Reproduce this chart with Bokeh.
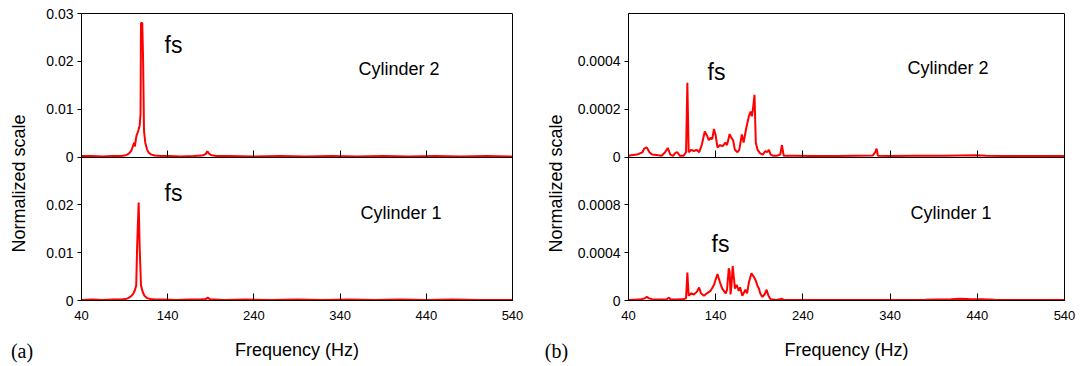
import math

from bokeh.plotting import figure
from bokeh.layouts import row
from bokeh.models import Range1d, FixedTicker, Label, LinearAxis
from bokeh.embed import file_html
from bokeh.resources import INLINE

# ---------------------------------------------------------------- data
freq_ticks = [40, 140, 240, 340, 440, 540]
freq_labels = ["40", "140", "240", "340", "440", "540"]

# (a) upper panel: Cylinder 2
a_cyl2_freq = [40, 52, 64, 76, 86, 90, 93, 96, 98, 99.5, 101, 102, 103, 104, 105,
               106, 107.5, 108.5, 109, 110.5, 111.5, 112.5, 114, 116, 118, 121, 125,
               132, 142, 155, 170, 180, 184, 186, 187.5, 190, 196, 210, 240, 270, 300,
               330, 360, 390, 420, 450, 480, 510, 540]
a_cyl2_val = [0.0002, 0.0002, 0.0001, 0.0002, 0.0002, 0.0003, 0.0005, 0.0009, 0.0014,
              0.0022, 0.0030, 0.0022, 0.0036, 0.0046, 0.0050, 0.0056, 0.0066, 0.0090,
              0.0280, 0.0280, 0.0200, 0.0055, 0.0030, 0.0016, 0.0009, 0.0005, 0.0003,
              0.0002, 0.0002, 0.0001, 0.0002, 0.0003, 0.0006, 0.0012, 0.0008, 0.0004,
              0.0002, 0.0002, 0.0001, 0.0002, 0.0001, 0.0002, 0.0001, 0.0002, 0.0001,
              0.0002, 0.0001, 0.0002, 0.0001]

# (a) lower panel: Cylinder 1
a_cyl1_freq = [40, 52, 64, 76, 86, 91, 94, 97, 100, 102, 103.5, 104.5, 106.3, 107.5,
               109, 111, 113, 116, 120, 126, 136, 150, 165, 178, 184, 186.5, 188, 190,
               194, 205, 230, 260, 290, 320, 350, 380, 410, 440, 470, 500, 540]
a_cyl1_val = [0.0001, 0.0002, 0.0001, 0.0002, 0.0002, 0.0003, 0.0005, 0.0008, 0.0014,
              0.0022, 0.0032, 0.0110, 0.0205, 0.0110, 0.0032, 0.0018, 0.0010, 0.0005,
              0.0003, 0.0002, 0.0002, 0.0001, 0.0002, 0.0002, 0.0003, 0.0006, 0.0004,
              0.0002, 0.0002, 0.0001, 0.0002, 0.0001, 0.0002, 0.0001, 0.0002, 0.0001,
              0.0002, 0.0001, 0.0002, 0.0001, 0.0001]

# (b) upper panel: Cylinder 2
b_cyl2_freq = [40, 45, 50, 53, 56, 58, 61, 64, 67, 72, 78, 82, 85, 88, 91, 94, 96, 99,
               103, 106, 107.5, 109, 112, 115, 118, 121, 124, 127.5, 130, 132, 134, 136,
               138, 140, 142, 145, 148, 151, 153, 156, 158, 160, 162, 165, 167, 170,
               172, 175, 178, 180, 181.5, 183, 184.5, 186, 188, 191, 194, 197, 199, 201,
               203, 206, 210, 214, 216, 218, 230, 250, 280, 300, 320, 323, 324.5, 326,
               340, 370, 400, 420, 440, 450, 470, 500, 540]
b_cyl2_val = [0.000005, 0.000008, 0.00001, 0.000015, 0.00002, 0.000035, 0.00004,
              0.00002, 0.00001, 0.000008, 0.000005, 0.00002, 0.000038, 0.00001,
              0.000005, 0.000018, 0.00002, 0.000005, 0.000005, 0.00002, 0.00031,
              0.00002, 0.00003, 0.000025, 0.00003, 0.00002, 0.00005, 0.000107,
              0.00009, 0.00007, 0.00008, 0.000075, 0.000117, 0.00009, 0.00004,
              0.00005, 0.000045, 0.00006, 0.00005, 0.000096, 0.00008, 0.00007,
              0.00003, 0.00002, 0.00003, 0.000094, 0.00006, 0.00012, 0.00017,
              0.00019, 0.00017, 0.00021, 0.00026, 0.00006, 0.00003, 0.000015,
              0.00001, 0.000025, 0.00002, 0.00003, 0.00001, 0.000005, 0.000005,
              0.00001, 0.00005, 0.000005, 0.000005, 0.000004, 0.000004, 0.000005,
              0.000006, 0.00002, 0.000035, 0.000005, 0.000004, 0.000005, 0.000005,
              0.000006, 0.000007, 0.000005, 0.000004, 0.000004, 0.000004]

# (b) lower panel: Cylinder 1
b_cyl1_freq = [40, 50, 55, 59, 61, 63, 67, 75, 84, 86.5, 88, 95, 103, 106, 107.5, 109,
               112, 115, 118, 121, 123, 126.5, 130, 134, 138, 142, 145, 147.5, 151.5,
               153, 155, 156, 157, 158, 159.5, 161, 162, 164, 166.5, 168, 170.5, 172,
               174, 176, 178, 181, 183.5, 185.8, 188, 189.6, 191, 193.5, 196, 198.4,
               200.5, 203, 210, 216, 218, 260, 300, 380, 410, 420, 430, 445, 460, 500,
               540]
b_cyl1_val = [0.000005, 0.000008, 0.00001, 0.00002, 0.00003, 0.00002, 0.00001,
              0.000008, 0.00001, 0.000025, 0.00001, 0.000008, 0.00001, 0.00002,
              0.000233, 0.00004, 0.00006, 0.00005, 0.00007, 0.000108, 0.00006,
              0.00004, 0.00006, 0.00008, 0.00013, 0.000222, 0.00015, 0.0001, 0.00006,
              0.00009, 0.00027, 0.00024, 0.00005, 0.00012, 0.000289, 0.00018, 0.0001,
              0.00013, 0.00008, 0.00011, 0.00004, 0.00006, 0.00009, 0.00006, 0.00015,
              0.000228, 0.0002, 0.00017, 0.00012, 0.0001, 0.00006, 0.00003, 0.00005,
              0.00009, 0.00004, 0.00001, 0.000005, 0.000015, 0.000005, 0.000004,
              0.000005, 0.000006, 0.00001, 0.000015, 0.000012, 0.00001, 0.000006,
              0.000004, 0.000004]

# y scales: each panel runs from 0 to its own top value
a_lower_top, a_upper_top = 0.03, 0.03
a_lower_ticks, a_lower_labels = [0, 0.01, 0.02], ["0", "0.01", "0.02"]
a_upper_ticks, a_upper_labels = [0, 0.01, 0.02, 0.03], ["0", "0.01", "0.02", "0.03"]

b_lower_top, b_upper_top = 0.0012, 0.0006
b_lower_ticks, b_lower_labels = [0, 0.0004, 0.0008], ["0", "0.0004", "0.0008"]
b_upper_ticks, b_upper_labels = [0, 0.0002, 0.0004], ["0", "0.0002", "0.0004"]

# ---------------------------------------------------------------- styling
SANS = "Liberation Sans"
SERIF = "Liberation Serif"
RED = "#ff0000"
HEIGHT = 366


def style_x(axis, show_labels):
    axis.ticker = FixedTicker(ticks=freq_ticks)
    axis.major_label_overrides = dict(zip(freq_ticks, freq_labels))
    axis.major_tick_in = 7
    axis.major_tick_out = 0
    axis.minor_tick_line_color = None
    axis.axis_line_color = "black"
    axis.major_tick_line_color = "black"
    axis.major_label_text_font = SANS
    axis.major_label_text_color = "black"
    if show_labels:
        axis.major_label_text_font_size = "13px"
        axis.major_label_standoff = 10
        axis.axis_label = "Frequency (Hz)"
        axis.axis_label_text_font = SANS
        axis.axis_label_text_font_size = "18px"
        axis.axis_label_text_font_style = "normal"
        axis.axis_label_text_color = "black"
        axis.axis_label_standoff = 17
    else:
        axis.major_label_text_font_size = "0px"
        axis.major_label_text_alpha = 0
        axis.major_label_standoff = 0


def spectrum_pair(width, border_left, border_right, border_top, lower_top, upper_top,
                  lower_ticks, lower_labels, upper_ticks, upper_labels,
                  lower_f, lower_v, upper_f, upper_v, texts):
    # Lower panel lives in the bottom half of the default y range,
    # upper panel in the top half of the "upper" range (its 0 sits mid-frame).
    p = figure(width=width, height=HEIGHT, output_backend="svg", toolbar_location=None,
               x_range=Range1d(40, 540), y_range=Range1d(0, 2 * lower_top),
               min_border_left=border_left, min_border_right=border_right,
               min_border_top=border_top, min_border_bottom=HEIGHT - border_top - 288)
    p.extra_y_ranges = {"upper": Range1d(-upper_top, upper_top)}
    p.grid.visible = False
    p.outline_line_color = "black"
    p.outline_line_alpha = 1
    p.background_fill_color = "white"
    p.border_fill_color = "white"

    style_x(p.xaxis[0], True)

    # one left axis carries the ticks of both panels
    scale = lower_top / upper_top
    ticks = list(lower_ticks) + [lower_top + v * scale for v in upper_ticks]
    labels = list(lower_labels) + list(upper_labels)
    ya = p.yaxis[0]
    ya.ticker = FixedTicker(ticks=ticks)
    ya.major_label_overrides = dict(zip(ticks, labels))
    ya.major_tick_out = 4
    ya.major_tick_in = 0
    ya.minor_tick_line_color = None
    ya.major_label_standoff = 4
    ya.major_label_text_font = SANS
    ya.major_label_text_font_size = "14px"
    ya.major_label_text_color = "black"
    ya.axis_line_color = "black"
    ya.major_tick_line_color = "black"

    # dividing axis at the zero of the upper panel, ticks pointing up
    divider = LinearAxis(y_range_name="upper", fixed_location=0)
    style_x(divider, False)
    p.add_layout(divider, "below")

    p.line(lower_f, lower_v, line_color=RED, line_width=2)
    p.line(upper_f, upper_v, line_color=RED, line_width=2, y_range_name="upper")

    for text, sx, sy, size in texts:
        p.add_layout(Label(x=sx, y=sy, x_units="screen", y_units="screen", text=text,
                           text_font=SANS, text_font_size=size,
                           text_align="left", text_baseline="alphabetic",
                           text_color="black"))
    return p


def side_strip(width, label_x, tag):
    # narrow blank canvas holding the shared y-axis title and the panel tag
    s = figure(width=width, height=HEIGHT, output_backend="svg", toolbar_location=None,
               x_range=Range1d(0, 1), y_range=Range1d(0, 1),
               x_axis_location=None, y_axis_location=None,
               min_border_left=0, min_border_right=0, min_border_top=13,
               min_border_bottom=65)
    s.grid.visible = False
    s.outline_line_color = None
    s.background_fill_color = "white"
    s.border_fill_color = "white"
    s.add_layout(Label(x=label_x, y=117, x_units="screen", y_units="screen",
                       text="Normalized scale", text_font=SANS, text_font_size="18px",
                       angle=math.pi / 2, text_align="center", text_baseline="middle",
                       text_color="black"))
    # the panel tag sits under the frame as the label of a bare axis
    tag_axis = LinearAxis(ticker=FixedTicker(ticks=[]), axis_line_color=None,
                          major_tick_line_color=None, minor_tick_line_color=None,
                          major_label_text_font_size="0px", major_label_standoff=0,
                          major_tick_out=0, major_tick_in=0,
                          axis_label=tag, axis_label_text_font=SERIF,
                          axis_label_text_font_size="20px",
                          axis_label_text_font_style="normal",
                          axis_label_text_color="black", axis_label_standoff=39)
    s.add_layout(tag_axis, "below")
    return s


left_texts = [
    ("fs", 83, 256, "23px"),
    ("Cylinder 2", 277, 232, "18px"),
    ("fs", 83, 108, "23px"),
    ("Cylinder 1", 279, 88, "18px"),
]

right_texts = [
    ("fs", 79, 229, "23px"),
    ("Cylinder 2", 279, 233, "18px"),
    ("fs", 83, 57, "23px"),
    ("Cylinder 1", 282, 88, "18px"),
]

strip_a = side_strip(43, 18, "(a)")
left = spectrum_pair(497, 37, 28, 13, a_lower_top, a_upper_top,
                     a_lower_ticks, a_lower_labels, a_upper_ticks, a_upper_labels,
                     a_cyl1_freq, a_cyl1_val, a_cyl2_freq, a_cyl2_val, left_texts)
strip_b = side_strip(32, 15, "(b)")
right = spectrum_pair(510, 56, 18, 12, b_lower_top, b_upper_top,
                      b_lower_ticks, b_lower_labels, b_upper_ticks, b_upper_labels,
                      b_cyl1_freq, b_cyl1_val, b_cyl2_freq, b_cyl2_val, right_texts)

layout = row(strip_a, left, strip_b, right, spacing=0)

with open("out.html", "w") as f:
    f.write(file_html(layout, INLINE))
